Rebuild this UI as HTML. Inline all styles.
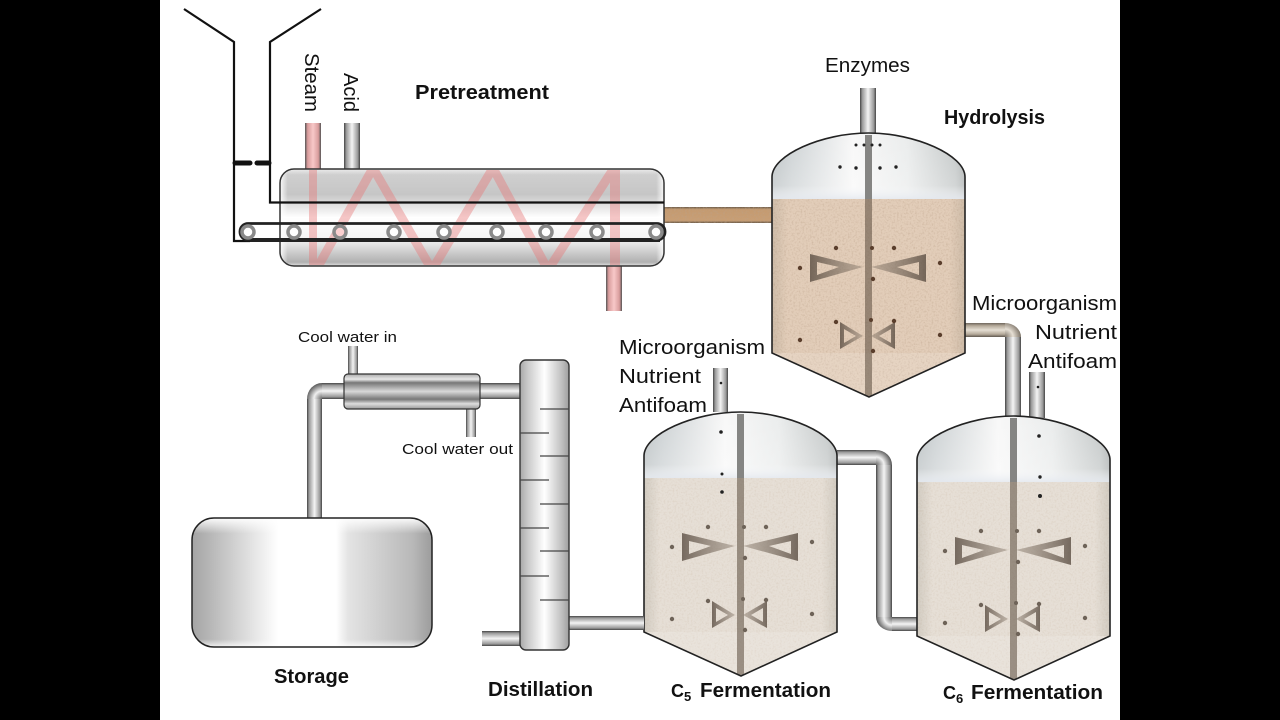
<!DOCTYPE html>
<html><head><meta charset="utf-8">
<style>
html,body{margin:0;padding:0;background:#000;width:1280px;height:720px;overflow:hidden}
svg{display:block}
text{font-family:"Liberation Sans",sans-serif;fill:#111}
.l{font-size:20.5px}
.b{font-size:20px;font-weight:bold}
.s{font-size:15px}
</style></head><body>
<svg width="1280" height="720" viewBox="0 0 1280 720" xmlns="http://www.w3.org/2000/svg">
<defs>
<linearGradient id="pv" x1="0" x2="1" y1="0" y2="0"><stop offset="0" stop-color="#444"/><stop offset=".14" stop-color="#999"/><stop offset=".5" stop-color="#f4f4f4"/><stop offset=".86" stop-color="#999"/><stop offset="1" stop-color="#444"/></linearGradient>
<linearGradient id="ph" x1="0" x2="0" y1="0" y2="1"><stop offset="0" stop-color="#444"/><stop offset=".14" stop-color="#999"/><stop offset=".5" stop-color="#f4f4f4"/><stop offset=".86" stop-color="#999"/><stop offset="1" stop-color="#444"/></linearGradient>
<linearGradient id="pt" x1="0" x2="0" y1="0" y2="1"><stop offset="0" stop-color="#6e665c"/><stop offset=".2" stop-color="#b5aa9a"/><stop offset=".5" stop-color="#e6dfd4"/><stop offset=".8" stop-color="#b5aa9a"/><stop offset="1" stop-color="#5e574e"/></linearGradient>
<linearGradient id="ps" x1="0" x2="1" y1="0" y2="0"><stop offset="0" stop-color="#555"/><stop offset=".16" stop-color="#d89c9c"/><stop offset=".5" stop-color="#f8c8c8"/><stop offset=".84" stop-color="#d89c9c"/><stop offset="1" stop-color="#555"/></linearGradient>
<linearGradient id="pb" x1="0" x2="0" y1="0" y2="1"><stop offset="0" stop-color="#6a5a48"/><stop offset=".15" stop-color="#c49a70"/><stop offset=".85" stop-color="#c89e74"/><stop offset="1" stop-color="#6a5a48"/></linearGradient>
<linearGradient id="rx" x1="0" x2="0" y1="0" y2="1"><stop offset="0" stop-color="#ececec"/><stop offset=".06" stop-color="#cfcfcf"/><stop offset=".26" stop-color="#c6c6c6"/><stop offset=".5" stop-color="#fff"/><stop offset=".72" stop-color="#f4f4f4"/><stop offset=".96" stop-color="#b0b0b0"/><stop offset="1" stop-color="#e0e0e0"/></linearGradient>
<linearGradient id="rs" x1="0" x2="1" y1="0" y2="0"><stop offset="0" stop-color="#fff" stop-opacity=".9"/><stop offset=".02" stop-color="#fff" stop-opacity="0"/><stop offset=".98" stop-color="#fff" stop-opacity="0"/><stop offset="1" stop-color="#fff" stop-opacity=".9"/></linearGradient>
<linearGradient id="sx" x1="0" x2="1" y1="0" y2="0"><stop offset="0" stop-color="#a4a4a4"/><stop offset=".1" stop-color="#bdbdbd"/><stop offset=".36" stop-color="#fff"/><stop offset=".6" stop-color="#fff"/><stop offset=".65" stop-color="#e4e4e4"/><stop offset=".92" stop-color="#b8b8b8"/><stop offset="1" stop-color="#9c9c9c"/></linearGradient>
<linearGradient id="sv" x1="0" x2="0" y1="0" y2="1"><stop offset="0" stop-color="#fff" stop-opacity=".95"/><stop offset=".12" stop-color="#fff" stop-opacity="0"/><stop offset=".94" stop-color="#fff" stop-opacity="0"/><stop offset="1" stop-color="#fff" stop-opacity=".8"/></linearGradient>
<linearGradient id="cx" x1="0" x2="1" y1="0" y2="0"><stop offset="0" stop-color="#a8a8a8"/><stop offset=".15" stop-color="#c8c8c8"/><stop offset=".5" stop-color="#fff"/><stop offset=".85" stop-color="#c0c0c0"/><stop offset="1" stop-color="#9e9e9e"/></linearGradient>
<linearGradient id="cd" x1="0" x2="0" y1="0" y2="1"><stop offset="0" stop-color="#aaa"/><stop offset=".15" stop-color="#e8e8e8"/><stop offset=".25" stop-color="#777"/><stop offset=".5" stop-color="#d8d8d8"/><stop offset=".72" stop-color="#777"/><stop offset=".85" stop-color="#ddd"/><stop offset="1" stop-color="#999"/></linearGradient>
<linearGradient id="dome" x1="0" x2="1" y1="0" y2="0"><stop offset="0" stop-color="#bcc2c4"/><stop offset=".1" stop-color="#cdd2d4"/><stop offset=".42" stop-color="#f8f8f8"/><stop offset=".7" stop-color="#eaecec"/><stop offset=".95" stop-color="#c4c8c8"/><stop offset="1" stop-color="#aeb2b2"/></linearGradient>
<linearGradient id="fade" x1="0" x2="0" y1="0" y2="1"><stop offset="0" stop-color="#fff" stop-opacity="0"/><stop offset=".8" stop-color="#fff" stop-opacity=".25"/><stop offset="1" stop-color="#e6eaf0" stop-opacity=".9"/></linearGradient>
<linearGradient id="edge" x1="0" x2="1" y1="0" y2="0"><stop offset="0" stop-color="#554" stop-opacity=".14"/><stop offset=".08" stop-color="#554" stop-opacity="0"/><stop offset=".92" stop-color="#554" stop-opacity="0"/><stop offset="1" stop-color="#554" stop-opacity=".14"/></linearGradient>
<linearGradient id="iwL" x1="0" x2="1" y1="0" y2="0"><stop offset="0" stop-color="#5a4d42" stop-opacity=".8"/><stop offset="1" stop-color="#8a7c6e" stop-opacity=".45"/></linearGradient>
<linearGradient id="iwR" x1="1" x2="0" y1="0" y2="0"><stop offset="0" stop-color="#5a4d42" stop-opacity=".8"/><stop offset="1" stop-color="#8a7c6e" stop-opacity=".45"/></linearGradient>
<radialGradient id="e1" gradientUnits="userSpaceOnUse" cx="322" cy="399" r="16"><stop offset="0" stop-color="#666"/><stop offset=".5" stop-color="#f0f0f0"/><stop offset="1" stop-color="#555"/></radialGradient>
<radialGradient id="e2" gradientUnits="userSpaceOnUse" cx="1005" cy="337" r="16"><stop offset="0" stop-color="#7d7468"/><stop offset=".5" stop-color="#e6dfd4"/><stop offset="1" stop-color="#7d7468"/></radialGradient>
<radialGradient id="e3" gradientUnits="userSpaceOnUse" cx="876" cy="465" r="16"><stop offset="0" stop-color="#666"/><stop offset=".5" stop-color="#f0f0f0"/><stop offset="1" stop-color="#555"/></radialGradient>
<radialGradient id="e4" gradientUnits="userSpaceOnUse" cx="892" cy="617" r="16"><stop offset="0" stop-color="#666"/><stop offset=".5" stop-color="#f0f0f0"/><stop offset="1" stop-color="#555"/></radialGradient>
<clipPath id="rc"><rect x="281" y="170" width="382" height="95" rx="13"/></clipPath>
<filter id="grain" x="0" y="0" width="100%" height="100%"><feTurbulence type="fractalNoise" baseFrequency=".55" numOctaves="2" seed="4"/><feColorMatrix type="matrix" values="0 0 0 0 .5  0 0 0 0 .36  0 0 0 0 .25  0 0 0 1.3 -.58"/><feComposite in2="SourceGraphic" operator="in"/></filter>
<g id="tankBase">
<path d="M0,44 C0,22 50,0 96.5,0 C143,0 193,22 193,44 V66 H0Z" fill="url(#dome)"/>
<path d="M0,44 C0,22 50,0 96.5,0 C143,0 193,22 193,44 V66 H0Z" fill="url(#fade)"/>
<path d="M0,66 H193 V220 L97,264 L0,220Z" fill="var(--liq)"/>
<path d="M0,66 H193 V220 L97,264 L0,220Z" fill="#fff" filter="url(#grain)" opacity="var(--gr)"/>
<rect x="0" y="66" width="193" height="154" fill="url(#edge)"/>
<path d="M0,220 H193 L97,264Z" fill="#fff" opacity=".14"/>
<rect x="93" y="2" width="7" height="64" fill="#858583"/>
<rect x="93" y="66" width="7" height="197" fill="#5a4a3c" opacity=".55"/>
<g fill-rule="evenodd">
<path d="M38,121 L38,149 L91,134Z M45,129 L45,142 L67,134Z" fill="url(#iwL)"/>
<path d="M154,121 L154,149 L99,134Z M147,129 L147,142 L125,134Z" fill="url(#iwR)"/>
<path d="M68,189 L68,216 L91,203Z M72,196 L72,210 L84,203Z" fill="url(#iwL)"/>
<path d="M123,189 L123,216 L99,203Z M119,196 L119,210 L107,203Z" fill="url(#iwR)"/>
</g>
<g fill="var(--dot)">
<circle cx="64" cy="115" r="2.200"/><circle cx="100" cy="115" r="2"/><circle cx="122" cy="115" r="2.200"/><circle cx="28" cy="135" r="2.200"/><circle cx="168" cy="130" r="2.200"/><circle cx="101" cy="146" r="2.200"/><circle cx="64" cy="189" r="2.200"/><circle cx="99" cy="187" r="2"/><circle cx="122" cy="188" r="2.200"/><circle cx="28" cy="207" r="2.200"/><circle cx="168" cy="202" r="2.200"/><circle cx="101" cy="218" r="2.200"/>
</g>
<path d="M0,220 L0,44 C0,22 50,0 96.5,0 C143,0 193,22 193,44 L193,220 L97,264Z" fill="none" stroke="#222" stroke-width="1.600"/>
</g>
</defs>

<rect width="1280" height="720" fill="#000"/>
<rect x="160" width="960" height="720" fill="#fff"/>

<!-- Pretreatment feeds -->
<rect x="305" y="123" width="16" height="46" fill="url(#ps)"/>
<rect x="344" y="123" width="16" height="46" fill="url(#pv)"/>
<rect x="606" y="266" width="16" height="45" fill="url(#ps)"/>
<rect x="664" y="207" width="108" height="16" fill="url(#pb)"/>
<rect x="664" y="207" width="108" height="16" fill="#fff" filter="url(#grain)"/>

<!-- Reactor -->
<rect x="280" y="169" width="384" height="97" rx="14" fill="url(#rx)"/>
<rect x="280" y="169" width="384" height="97" rx="14" fill="url(#rs)"/>
<g clip-path="url(#rc)" opacity=".42">
<path d="M309,165 H317 V270 H309Z M610,165 H620 V270 H610Z" fill="#e87878"/>
<path d="M315,272 L373,168 L432,270 L493,168 L548,270 L614,168" fill="none" stroke="#e87878" stroke-width="9" stroke-linejoin="miter"/>
</g>
<rect x="280" y="169" width="384" height="97" rx="14" fill="none" stroke="#333" stroke-width="1.500"/>
<path d="M184,9 L234,42 V241 H250" fill="none" stroke="#111" stroke-width="2.200"/>
<path d="M321,9 L270,42 V202.500 H664" fill="none" stroke="#111" stroke-width="2.200"/>
<path d="M235,163 H250 M257,163 H269" stroke="#111" stroke-width="5" stroke-linecap="round"/>
<rect x="240" y="223.500" width="425" height="16.500" rx="8" fill="none" stroke="#222" stroke-width="2.800"/>
<path d="M250,240 H660" stroke="#222" stroke-width="4"/>
<g fill="#fff" stroke="#8a8a8a" stroke-width="3.500">
<circle cx="248" cy="232" r="6"/><circle cx="294" cy="232" r="6"/><circle cx="340" cy="232" r="6" fill="#fbd0d0"/><circle cx="394" cy="232" r="6"/><circle cx="444" cy="232" r="6"/><circle cx="497" cy="232" r="6"/><circle cx="546" cy="232" r="6"/><circle cx="597" cy="232" r="6"/><circle cx="656" cy="232" r="6"/>
</g>

<!-- Vertical feed pipes -->
<rect x="860" y="88" width="16" height="45" fill="url(#pv)"/>
<rect x="713" y="368" width="15" height="44" fill="url(#pv)"/>
<rect x="1029" y="372" width="16" height="46" fill="url(#pv)"/>
<circle cx="721" cy="383" r="1.300" fill="#222"/><circle cx="1038" cy="387" r="1.300" fill="#222"/>

<!-- Hydrolysis to C6 pipe -->
<rect x="965" y="323" width="40" height="14" fill="url(#pt)"/>
<path d="M1005,337 L1005,323 A16,14 0 0 1 1021,337Z" fill="url(#e2)"/>
<rect x="1005" y="337" width="16" height="80" fill="url(#pv)"/>

<!-- C5 to C6 pipe -->
<rect x="837" y="450" width="39" height="15" fill="url(#ph)"/>
<path d="M876,465 L876,450 A16,15 0 0 1 892,465Z" fill="url(#e3)"/>
<rect x="876" y="465" width="16" height="152" fill="url(#pv)"/>
<path d="M892,617 L876,617 A16,14 0 0 0 892,631Z" fill="url(#e4)"/>
<rect x="892" y="617" width="25" height="14" fill="url(#ph)"/>

<!-- Tanks -->
<g transform="translate(772,133)" style="--liq:#e2cdb9;--gr:.8;--dot:#5a3e2c"><use href="#tankBase"/></g>
<g transform="translate(644,412)" style="--liq:#e6dfd6;--gr:.35;--dot:#6e6358"><use href="#tankBase"/></g>
<g transform="translate(917,416)" style="--liq:#e6dfd6;--gr:.35;--dot:#6e6358"><use href="#tankBase"/></g>
<g fill="#222">
<circle cx="856" cy="145" r="1.500"/><circle cx="864" cy="145" r="1.500"/><circle cx="872" cy="145" r="1.500"/><circle cx="880" cy="145" r="1.500"/><circle cx="840" cy="167" r="1.700"/><circle cx="856" cy="168" r="1.700"/><circle cx="880" cy="168" r="1.700"/><circle cx="896" cy="167" r="1.700"/>
<circle cx="721" cy="432" r="1.800"/><circle cx="722" cy="474" r="1.500"/><circle cx="722" cy="492" r="1.800"/>
<circle cx="1039" cy="436" r="1.800"/><circle cx="1040" cy="477" r="1.700"/><circle cx="1040" cy="496" r="2"/>
</g>

<!-- Distillation -->
<rect x="482" y="631" width="38" height="15" fill="url(#ph)"/>
<rect x="569" y="616" width="75" height="14" fill="url(#ph)"/>
<rect x="322" y="383" width="198" height="16" fill="url(#ph)"/>
<path d="M322,399 L307,399 A15,16 0 0 1 322,383Z" fill="url(#e1)"/>
<rect x="307" y="399" width="15" height="120" fill="url(#pv)"/>
<rect x="520" y="360" width="49" height="290" rx="6" fill="url(#cx)" stroke="#333" stroke-width="1.400"/>
<path d="M540,409 H569 M540,456 H569 M540,504 H569 M540,551 H569 M540,600 H569 M520,433 H549 M520,480 H549 M520,528 H549 M520,576 H549" stroke="#444" stroke-width="1.300"/>

<!-- Condenser -->
<rect x="348" y="346" width="10" height="28" fill="url(#pv)"/>
<rect x="466" y="409" width="10" height="28" fill="url(#pv)"/>
<rect x="344" y="374" width="136" height="35" rx="4" fill="url(#cd)" stroke="#333" stroke-width="1.200"/>

<!-- Storage -->
<rect x="192" y="518" width="240" height="129" rx="22" fill="url(#sx)"/>
<rect x="192" y="518" width="240" height="129" rx="22" fill="url(#sv)" stroke="#222" stroke-width="1.500"/>

<!-- Labels -->
<text class="l" transform="translate(305,53) rotate(90)" textLength="59" lengthAdjust="spacingAndGlyphs">Steam</text>
<text class="l" transform="translate(344,73) rotate(90)" textLength="39" lengthAdjust="spacingAndGlyphs">Acid</text>
<text class="b" x="415" y="99" textLength="134" lengthAdjust="spacingAndGlyphs">Pretreatment</text>
<text class="l" x="825" y="72" textLength="85" lengthAdjust="spacingAndGlyphs">Enzymes</text>
<text class="b" x="944" y="124" textLength="101" lengthAdjust="spacingAndGlyphs">Hydrolysis</text>
<text class="l" x="972" y="310" textLength="145" lengthAdjust="spacingAndGlyphs">Microorganism</text>
<text class="l" x="1035" y="339" textLength="82" lengthAdjust="spacingAndGlyphs">Nutrient</text>
<text class="l" x="1028" y="368" textLength="89" lengthAdjust="spacingAndGlyphs">Antifoam</text>
<text class="l" x="619" y="354" textLength="146" lengthAdjust="spacingAndGlyphs">Microorganism</text>
<text class="l" x="619" y="383" textLength="82" lengthAdjust="spacingAndGlyphs">Nutrient</text>
<text class="l" x="619" y="412" textLength="88" lengthAdjust="spacingAndGlyphs">Antifoam</text>
<text class="s" x="298" y="342" textLength="99" lengthAdjust="spacingAndGlyphs">Cool water in</text>
<text class="s" x="402" y="454" textLength="111" lengthAdjust="spacingAndGlyphs">Cool water out</text>
<text class="b" x="274" y="683" textLength="75" lengthAdjust="spacingAndGlyphs">Storage</text>
<text class="b" x="488" y="696" textLength="105" lengthAdjust="spacingAndGlyphs">Distillation</text>
<text class="b" x="671" y="697" style="font-size:18px">C</text>
<text class="b" x="684" y="701" style="font-size:13px">5</text>
<text class="b" x="700" y="697" textLength="131" lengthAdjust="spacingAndGlyphs">Fermentation</text>
<text class="b" x="943" y="699" style="font-size:18px">C</text>
<text class="b" x="956" y="703" style="font-size:13px">6</text>
<text class="b" x="971" y="699" textLength="132" lengthAdjust="spacingAndGlyphs">Fermentation</text>
</svg>
</body></html>
